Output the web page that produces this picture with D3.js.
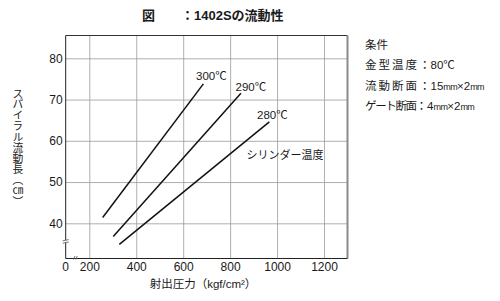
<!DOCTYPE html>
<html><head><meta charset="utf-8">
<script src="https://cdn.jsdelivr.net/npm/d3@7"></script>
<style>
html,body{margin:0;padding:0;background:#fff;}
svg{display:block;}
text{font-family:"Liberation Sans","Noto Sans CJK JP",sans-serif;fill:#1a1a1a;}
</style></head>
<body>
<script>
// ---- data ----
const xTicks = [200, 400, 600, 800, 1000, 1200];
const yTicks = [40, 50, 60, 70, 80];
const seriesNames = ["300℃", "290℃", "280℃"];
const series300 = [[257, 41.4], [686, 73.8]];
const series290 = [[302, 36.8], [846, 71.5]];
const series280 = [[328, 34.9], [967, 64.6]];
const seriesData = [series300, series290, series280];
const title = "図　　：1402Sの流動性";
const xTitle = "射出圧力（kgf/cm²）";
const yTitle = "スパイラル流動長（㎝）";
const seriesCaption = "シリンダー温度";
// condition rows: label, then value pieces ("mm" pieces drawn small)
const conditionLabels = ["条件", "金型温度", "流動断面", "ゲート断面"];
const conditionValues = [[], ["：80℃"], ["：15", "mm", "×2", "mm"], ["：4", "mm", "×2", "mm"]];

const W = 500, H = 301;
const L = 65.7, R = 347.5, T = 35.5, B = 258.5;
const svg = d3.select("body").append("svg").attr("width", W).attr("height", H);

const x = d3.scaleLinear().domain([200, 1300]).range([89.3, R]);
const y = d3.scaleLinear().domain([40, 80]).range([223.3, 58.3]);

// title
svg.append("text").attr("x", 142).attr("y", 20).attr("font-size", 13).attr("font-weight", "bold")
  .attr("xml:space", "preserve").text(title);

// grid via axes
const gx = svg.append("g").attr("transform", `translate(0,${B})`)
  .call(d3.axisBottom(x).tickValues(xTicks).tickSize(-(B - T)).tickPadding(4).tickFormat(d3.format("d")));
gx.select(".domain").remove();
gx.selectAll(".tick line").attr("stroke", "#9a9a9a").attr("stroke-width", 0.8);
gx.selectAll(".tick text").attr("font-size", 12).attr("fill", "#1a1a1a")
  .style("font-family", "'Liberation Sans',sans-serif");

const gy = svg.append("g").attr("transform", `translate(${L},0)`)
  .call(d3.axisLeft(y).tickValues(yTicks).tickSize(-(R - L)).tickPadding(3));
gy.select(".domain").remove();
gy.selectAll(".tick line").attr("stroke", "#9a9a9a").attr("stroke-width", 0.8);
gy.selectAll(".tick text").attr("font-size", 12).attr("fill", "#1a1a1a")
  .style("font-family", "'Liberation Sans',sans-serif");

// origin label
svg.append("text").attr("x", L).attr("y", 271).attr("text-anchor", "middle").attr("font-size", 12).text("0");

// frame
svg.append("line").attr("x1", L).attr("x2", R).attr("y1", T).attr("y2", T).attr("stroke", "#333").attr("stroke-width", 1);
svg.append("line").attr("x1", R).attr("x2", R).attr("y1", T).attr("y2", B).attr("stroke", "#8a8a8a").attr("stroke-width", 2);
svg.append("line").attr("x1", L).attr("x2", L).attr("y1", T).attr("y2", B).attr("stroke", "#222").attr("stroke-width", 1);
svg.append("line").attr("x1", L).attr("x2", R).attr("y1", B).attr("y2", B).attr("stroke", "#222").attr("stroke-width", 1);

// axis break marks
const brk = svg.append("g").attr("stroke", "#555").attr("stroke-width", 0.8).attr("fill", "none");
brk.append("rect").attr("x", L - 1).attr("y", 240.2).attr("width", 2).attr("height", 2.4).attr("fill", "#fff").attr("stroke", "none");
brk.append("line").attr("x1", L - 3).attr("y1", 240.8).attr("x2", L + 3).attr("y2", 239.6);
brk.append("line").attr("x1", L - 3).attr("y1", 243.2).attr("x2", L + 3).attr("y2", 242);
brk.append("line").attr("x1", 73.5).attr("y1", 259.5).attr("x2", 75).attr("y2", 256);
brk.append("line").attr("x1", 75.8).attr("y1", 259.5).attr("x2", 77.3).attr("y2", 256);

// series lines
const line = d3.line().x(d => x(d[0])).y(d => y(d[1]));
svg.selectAll("path.series").data(seriesData).join("path").attr("class", "series")
  .attr("d", line).attr("fill", "none").attr("stroke", "#111").attr("stroke-width", 1.5);

// series labels (offset from line ends)
const labOff = [[8, -4], [10, -2.5], [3, -3]];
svg.selectAll("text.slab").data(seriesData).join("text").attr("class", "slab")
  .attr("x", (d, i) => x(d[1][0]) + labOff[i][0])
  .attr("y", (d, i) => y(d[1][1]) + labOff[i][1])
  .attr("text-anchor", "middle").attr("font-size", 11.5)
  .text((d, i) => seriesNames[i]);

svg.append("text").attr("x", x(870)).attr("y", y(56.8) + 5).attr("font-size", 11).text(seriesCaption);

// axis titles
svg.append("text").attr("x", 203).attr("y", 288).attr("text-anchor", "middle").attr("font-size", 11.5).text(xTitle);
svg.append("text").attr("transform", "translate(18,88)")
  .style("writing-mode", "vertical-rl").attr("font-size", 10.8).attr("fill", "#333")
  .style("font-family", "'Noto Sans CJK JP',sans-serif").text(yTitle);

// conditions
const cg = svg.append("g");
conditionLabels.forEach((lab, i) => {
  const by = 49 + i * 20.4;
  const t = cg.append("text").attr("x", 365).attr("y", by).attr("font-size", 11.5);
  if (i === 0) { t.text(lab); return; }
  t.append("tspan").attr("textLength", 52).attr("lengthAdjust", "spacing").text(lab);
  conditionValues[i].forEach(v => {
    const ts = t.append("tspan").text(v);
    if (v === "mm") ts.attr("font-size", 9).attr("letter-spacing", -0.6);
  });
});
</script>
</body></html>
